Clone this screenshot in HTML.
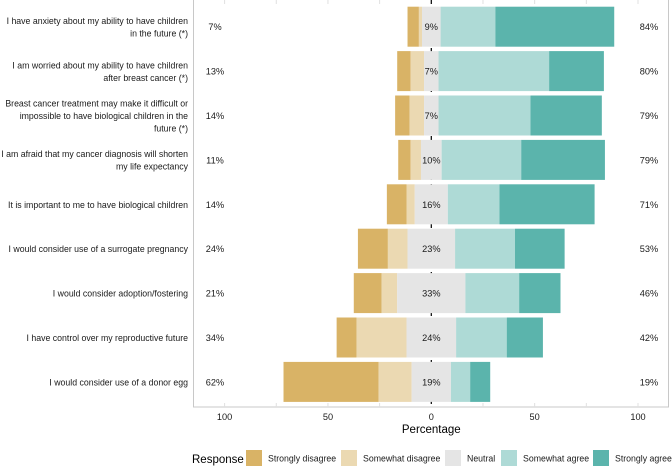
<!DOCTYPE html>
<html><head><meta charset="utf-8"><style>
html,body{margin:0;padding:0;background:#fff;}
svg{display:block;font-family:"Liberation Sans",Arial,sans-serif;}
</style></head><body>
<svg id="chart" width="672" height="467" viewBox="0 0 672 467"></svg>
<script>
const categories = [
 ["I have anxiety about my ability to have children","in the future (*)"],
 ["I am worried about my ability to have children","after breast cancer (*)"],
 ["Breast cancer treatment may make it difficult or","impossible to have biological children in the","future (*)"],
 ["I am afraid that my cancer diagnosis will shorten","my life expectancy"],
 ["It is important to me to have biological children"],
 ["I would consider use of a surrogate pregnancy"],
 ["I would consider adoption/fostering"],
 ["I have control over my reproductive future"],
 ["I would consider use of a donor egg"]
];
const stronglyDisagree = [5.5, 6.5, 7, 6, 9.5, 14.5, 13.5, 9.6, 46];
const somewhatDisagree = [1.5, 6.5, 7, 5, 4, 9.5, 7.5, 24.2, 16];
const neutral = [9, 7, 7, 10, 16, 23, 33, 24, 19];
const somewhatAgree = [26.5, 53.5, 44.5, 38.5, 25, 29, 26, 24.5, 9.3];
const stronglyAgree = [57.5, 26.5, 34.5, 40.5, 46, 24, 20, 17.5, 9.7];
const leftLabels = ["7%","13%","14%","11%","14%","24%","21%","34%","62%"];
const midLabels = ["9%","7%","7%","10%","16%","23%","33%","24%","19%"];
const rightLabels = ["84%","80%","79%","79%","71%","53%","46%","42%","19%"];
const tickValues = [-100,-50,0,50,100];
const tickLabels = ["100","50","0","50","100"];
const legendLabels = ["Strongly disagree","Somewhat disagree","Neutral","Somewhat agree","Strongly agree"];

const colors = ["#D9B366","#EBD9B2","#E5E5E5","#AEDAD6","#5BB4AC"];
const NS="http://www.w3.org/2000/svg";
const svg=document.getElementById('chart');
const x0=431.3, k=2.067, FS='9.2', CFS='8.75';
function xs(v){return x0+v*k;}
function yc(i){return 26.7+i*44.4;}
function mk(tag,attrs,parent){const e=document.createElementNS(NS,tag);for(const a in attrs)e.setAttribute(a,attrs[a]);(parent||svg).appendChild(e);return e;}

const panel=mk('rect',{x:193.5,y:-1,width:475,height:408,fill:'#fff',stroke:'#c8c8c8','stroke-width':1});


[-100,-75,-50,-25,25,50,75,100].forEach(v=>{
 const g1=mk('line',{x1:xs(v),x2:xs(v),y1:0,y2:4,stroke:'#e0e0e0','stroke-width':1});
 
 
 const g2=mk('line',{x1:xs(v),x2:xs(v),y1:403,y2:407,stroke:'#e0e0e0','stroke-width':1});
 
 
});
const z=mk('line',{x1:x0,x2:x0,y1:0,y2:407,stroke:'#000','stroke-width':1.2,'stroke-dasharray':'4,4'});



const series=[stronglyDisagree,somewhatDisagree,neutral,somewhatAgree,stronglyAgree];
categories.forEach((cat,i)=>{
 const y=yc(i), h=40;
 let start=-(stronglyDisagree[i]+somewhatDisagree[i]+neutral[i]/2);
 series.forEach((s,j)=>{
  const r=mk('rect',{x:xs(start),y:y-h/2,width:s[i]*k,height:h,fill:colors[j]});
  
  
  start+=s[i];
 });
 const n=cat.length, lh=12.5;
 const t=mk('text',{x:188,y:y-(n-1)*lh/2+3.5,'text-anchor':'end','font-size':CFS,fill:'#1a1a1a'});
 
 
 cat.forEach((line,li)=>{const ts=mk('tspan',{x:188,dy:li?lh:0},t);ts.textContent=line;});
 const l=mk('text',{x:215,y:y+3.5,'text-anchor':'middle','font-size':FS,fill:'#1a1a1a'});
 l.textContent=leftLabels[i];
 
 
 const m=mk('text',{x:x0,y:y+3.5,'text-anchor':'middle','font-size':FS,fill:'#1a1a1a'});
 m.textContent=midLabels[i];
 
 
 const rr=mk('text',{x:649,y:y+3.5,'text-anchor':'middle','font-size':FS,fill:'#1a1a1a'});
 rr.textContent=rightLabels[i];
 
 
});
tickValues.forEach((v,i)=>{
 const t=mk('text',{x:xs(v),y:420,'text-anchor':'middle','font-size':FS,fill:'#1a1a1a'});
 t.textContent=tickLabels[i];
 
 
});
const xt=mk('text',{x:x0,y:433,'text-anchor':'middle','font-size':'11.5',fill:'#000'});
xt.textContent='Percentage';


const lt=mk('text',{x:192,y:463,'font-size':'11.5',fill:'#000'});
lt.textContent='Response';


const keyX=[246,341,445,501,593];
legendLabels.forEach((lab,j)=>{
 const r=mk('rect',{x:keyX[j],y:450,width:16,height:16,fill:colors[j]});
 
 
 const t=mk('text',{x:keyX[j]+22,y:461.5,'font-size':CFS,fill:'#1a1a1a'});
 t.textContent=lab;
 
 
});
</script>
</body></html>
